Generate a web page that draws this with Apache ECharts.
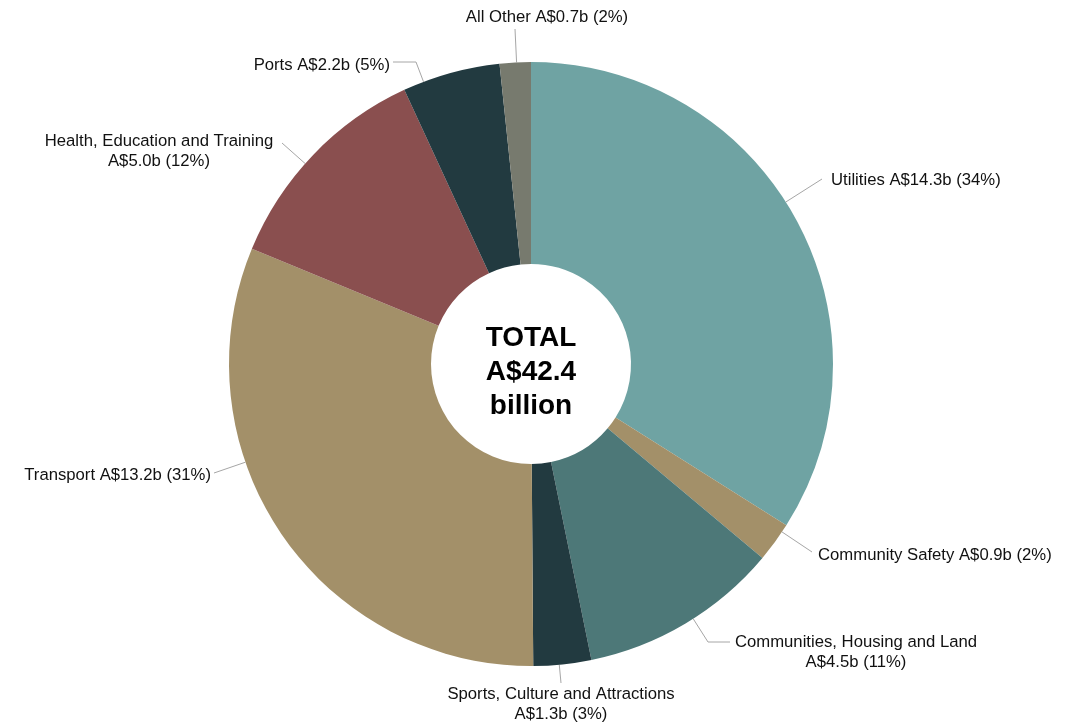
<!DOCTYPE html>
<html>
<head>
<meta charset="utf-8">
<script src="https://cdn.jsdelivr.net/npm/echarts@6/dist/echarts.min.js"></script>
<style>
  html, body { margin: 0; padding: 0; background: #fff; }
  #chart { width: 1076px; height: 723px; }
</style>
</head>
<body>
<div id="chart"></div>
<script>
// Infrastructure spend by sector (A$ billion), clockwise from 12 o'clock
const sectors = [
  'Utilities',
  'Community Safety',
  'Communities, Housing and Land',
  'Sports, Culture and Attractions',
  'Transport',
  'Health, Education and Training',
  'Ports',
  'All Other'
];
const values = [14.3, 0.9, 4.5, 1.3, 13.2, 5.0, 2.2, 0.7];
const shares = [34, 2, 11, 3, 31, 12, 5, 2];
const wrapped = [false, false, true, true, false, true, false, false];
const colors = ['#6fa3a3', '#a39069', '#4d7878', '#223a40', '#a39069', '#8a4f4f', '#223a40', '#777a6e'];
const totalText = 'TOTAL\nA$42.4\nbillion';

// Label placement: [x, y, align] for each slice's text
const labelAnchors = [
  [831, 180, 'left'],
  [818, 555, 'left'],
  [856, 652, 'center'],
  [561, 704, 'center'],
  [211, 475, 'right'],
  [159, 151, 'center'],
  [390, 65, 'right'],
  [547, 17, 'center']
];
// Leader lines: label-side end point, plus optional elbow toward the ring
const leaderEnds = [
  [[822, 179]],
  [[812, 552]],
  [[730, 642], [708, 642]],
  [[561, 683]],
  [[214, 473]],
  [[282, 143]],
  [[393, 62], [416, 62]],
  [[515, 29]]
];

const FONT = "'Liberation Sans', Arial, sans-serif";
const CX = 531, CY = 364, R_IN = 100, R_OUT = 302;

const chart = echarts.init(document.getElementById('chart'), null, { renderer: 'canvas' });

const data = sectors.map((name, i) => ({
  name: name,
  value: values[i],
  itemStyle: { color: colors[i] },
  label: {
    formatter: name + (wrapped[i] ? '\n' : ' ') + 'A$' + values[i].toFixed(1) + 'b (' + shares[i] + '%)'
  }
}));

// Point on the outer edge of the ring in the direction of p
function edgeToward(p) {
  const dx = p[0] - CX, dy = p[1] - CY;
  const d = Math.sqrt(dx * dx + dy * dy);
  return [CX + dx / d * R_OUT, CY + dy / d * R_OUT];
}

chart.setOption({
  animation: false,
  backgroundColor: '#ffffff',
  series: [{
    type: 'pie',
    center: [CX, CY],
    radius: [R_IN, R_OUT],
    startAngle: 90,
    clockwise: true,
    avoidLabelOverlap: false,
    data: data,
    label: {
      show: true,
      color: '#111',
      fontFamily: FONT,
      fontSize: 16.7,
      lineHeight: 20,
      align: 'center'
    },
    labelLine: {
      show: true,
      length: 12,
      length2: 18,
      smooth: false,
      lineStyle: { color: '#a6a6a6', width: 1 }
    },
    labelLayout: function (params) {
      const i = params.dataIndex;
      const a = labelAnchors[i];
      const ends = leaderEnds[i];
      const inner = ends[ends.length - 1];
      const pts = ends.slice().reverse();
      pts.unshift(edgeToward(inner));
      return {
        x: a[0],
        y: a[1],
        align: a[2],
        verticalAlign: 'middle',
        hideOverlap: false,
        labelLinePoints: pts
      };
    },
    emphasis: { disabled: true }
  }],
  graphic: [{
    type: 'text',
    style: {
      text: totalText,
      x: CX,
      y: 372,
      align: 'center',
      verticalAlign: 'middle',
      fontFamily: FONT,
      fontWeight: 'bold',
      fontSize: 28,
      lineHeight: 34,
      fill: '#000'
    }
  }]
});
</script>
</body>
</html>
